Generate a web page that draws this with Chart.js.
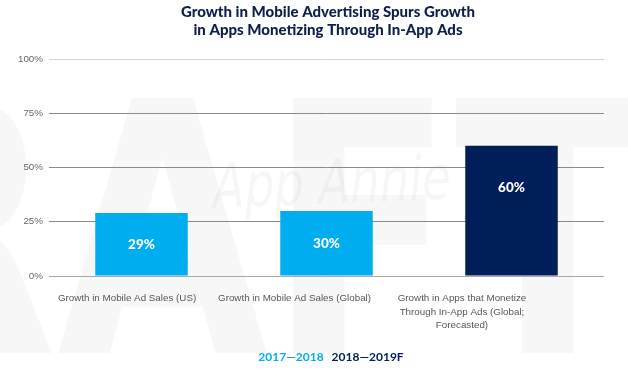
<!DOCTYPE html>
<html>
<head>
<meta charset="utf-8">
<script src="https://cdn.jsdelivr.net/npm/chart.js@4/dist/chart.umd.min.js"></script>
<style>
  html, body { margin: 0; padding: 0; background: #ffffff; }
  #wrap { width: 628px; height: 377px; position: relative; }
</style>
</head>
<body>
<div id="wrap"><canvas id="c"></canvas></div>
<script>
const categories = [
  "Growth in Mobile Ad Sales (US)",
  "Growth in Mobile Ad Sales (Global)",
  ["Growth in Apps that Monetize", "Through In-App Ads (Global;", "Forecasted)"]
];
const seriesNames = ["2017\u20142018", "2018\u20142019F"];
const values2017_2018 = [29, 30, null];
const values2018_2019F = [null, null, 60];
const yTicks = [0, 25, 50, 75, 100];
const labelSlots = [0, 1, 2];
const titleLines = ["Growth in Mobile Advertising Spurs Growth", "in Apps Monetizing Through In-App Ads"];

const LIGHT = "#00AEEF";
const NAVY = "#001E5A";
const TITLE_COLOR = "#0F1F4B";

const watermark = {
  id: "watermark",
  beforeDraw(chart) {
    const ctx = chart.ctx;
    ctx.save();
    ctx.fillStyle = "rgba(0,0,0,0.03)";
    ctx.font = "bold 350px 'DejaVu Sans'";
    ctx.translate(-380, 262);
    ctx.scale(0.78, 1);
    ctx.fillText("DRAFT", 0, 0);
    ctx.restore();
    ctx.save();
    ctx.fillStyle = "rgba(0,0,0,0.035)";
    ctx.font = "italic 300 62px 'DejaVu Sans'";
    ctx.translate(213, 192);
    ctx.scale(0.75, 1);
    ctx.rotate(-0.03);
    ctx.fillText("App Annie", 0, 0);
    ctx.restore();
  }
};

const centerBlocks = {
  id: "centerBlocks",
  afterLayout(chart) {
    const a = chart.chartArea;
    if (chart.titleBlock) { chart.titleBlock.left = a.left; chart.titleBlock.right = a.right + 3; }
    if (chart.legend) { chart.legend.left = a.left; chart.legend.right = a.right + 3; }
  }
};

const barLabels = {
  id: "barLabels",
  afterDatasetsDraw(chart) {
    const ctx = chart.ctx;
    ctx.save();
    ctx.fillStyle = "#ffffff";
    ctx.font = "900 13.5px Lato";
    ctx.textAlign = "center";
    ctx.textBaseline = "middle";
    chart.data.datasets.forEach((ds, di) => {
      const meta = chart.getDatasetMeta(di);
      meta.data.forEach((el, i) => {
        const v = ds.data[i];
        if (v === null || v === undefined) return;
        const h = el.base - el.y;
        const y = el.y + Math.min(h / 2, 42);
        ctx.fillText(v + "%", el.x, y);
      });
    });
    ctx.restore();
  }
};

new Chart(document.getElementById("c"), {
  type: "bar",
  data: {
    labels: categories,
    datasets: [
      { label: seriesNames[0], data: values2017_2018, backgroundColor: LIGHT, barPercentage: 0.5, categoryPercentage: 1 },
      { label: seriesNames[1], data: values2018_2019F, backgroundColor: NAVY, barPercentage: 0.5, categoryPercentage: 1 }
    ]
  },
  options: {
    responsive: true,
    maintainAspectRatio: false,
    animation: false,
    devicePixelRatio: 1,
    layout: { padding: { left: 17, right: 24, top: 0, bottom: 4 } },
    plugins: {
      title: {
        display: true,
        text: titleLines,
        color: TITLE_COLOR,
        font: { family: "Lato", size: 15, weight: "900", lineHeight: 1.2 },
        padding: { top: 3, bottom: 20 }
      },
      legend: {
        display: true,
        position: "bottom",
        labels: {
          boxWidth: 0,
          boxHeight: 0,
          padding: 2,
          font: { family: "Lato", size: 12, weight: "bold" },
          generateLabels(chart) {
            return chart.data.datasets.map((ds, i) => ({
              text: ds.label,
              fillStyle: "rgba(0,0,0,0)",
              strokeStyle: "rgba(0,0,0,0)",
              lineWidth: 0,
              fontColor: ds.backgroundColor,
              hidden: false,
              datasetIndex: i
            }));
          }
        }
      },
      tooltip: { enabled: false }
    },
    scales: {
      x: {
        stacked: true,
        display: false
      },
      xLabels: {
        type: "linear",
        position: "bottom",
        axis: "x",
        offset: false,
        bounds: "data",
        grace: 0,
        beginAtZero: false,
        min: -0.466,
        max: 2.848,
        afterBuildTicks(scale) { scale.ticks = labelSlots.map(v => ({ value: v })); },
        grid: { display: false, drawTicks: false, offset: false },
        border: { display: false },
        ticks: {
          color: "#555555",
          font: { family: "Liberation Sans", size: 9.8, lineHeight: 1.35 },
          padding: 16,
          maxRotation: 0,
          autoSkip: false,
          align: "center",
          callback: v => categories[v]
        },
        afterFit(scale) { scale.height = 73; }
      },
      y: {
        stacked: true,
        min: 0,
        max: 100,
        afterBuildTicks(scale) { scale.ticks = yTicks.map(v => ({ value: v })); },
        afterFit(scale) { scale.width = 32; },
        grid: {
          drawTicks: false,
          lineWidth: 1,
          color: ctx => (ctx.tick && ctx.tick.value === 100) ? "#d4d4d4" : (ctx.tick && ctx.tick.value === 0 ? "#a8a8a8" : "#8a8a8a")
        },
        border: { display: false },
        ticks: {
          color: "#666666",
          font: { family: "Liberation Sans", size: 9.8 },
          padding: 6,
          callback: v => v + "%"
        }
      }
    }
  },
  plugins: [watermark, centerBlocks, barLabels]
});
</script>
</body>
</html>
